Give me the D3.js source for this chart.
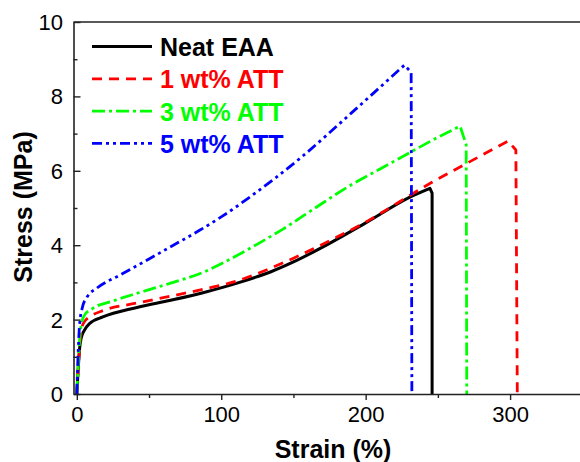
<!DOCTYPE html>
<html>
<head>
<meta charset="utf-8">
<script src="https://cdn.jsdelivr.net/npm/d3@7"></script>
<style>
  body { margin: 0; background: #fff; }
  svg { display: block; font-family: "Liberation Sans", Arial, sans-serif; }
</style>
</head>
<body>
<div id="chart"></div>
<script>
// series: strain (%) and stress (MPa)
const neatStrain = [0, 1, 2, 3, 5, 9, 18, 41, 65, 88, 111, 134, 150, 175, 200, 231, 244.5];
const neatStress = [0, 0.7, 1.25, 1.5, 1.7, 1.9, 2.07, 2.32, 2.52, 2.73, 2.98, 3.28, 3.55, 4.05, 4.6, 5.3, 5.53];
const neatBreak = [[246, 5.4], [246, 0]];

const att1Strain = [0, 1, 2, 3, 4.5, 10, 18, 41, 65, 88, 111, 134, 150, 175, 200, 210, 245, 270, 298.7];
const att1Stress = [0, 0.7, 1.3, 1.65, 1.9, 2.1, 2.24, 2.44, 2.63, 2.82, 3.04, 3.38, 3.65, 4.12, 4.62, 4.85, 5.67, 6.2, 6.8];
const att1Break = [[304, 6.56], [305, 0]];

const att3Strain = [0, 1, 2, 3, 5, 11, 25, 41, 65, 88, 100, 120, 143, 165, 189, 210, 231, 250, 265.4];
const att3Stress = [0, 0.8, 1.5, 1.85, 2.1, 2.3, 2.5, 2.7, 2.98, 3.28, 3.5, 3.92, 4.44, 5.0, 5.6, 6.05, 6.5, 6.9, 7.2];
const att3Break = [[269.6, 6.7], [270, 0]];

const att5Strain = [0, 1, 2, 4, 7, 14, 30, 50, 65, 85, 100, 120, 155, 190, 226.8];
const att5Stress = [0, 1.2, 1.9, 2.35, 2.6, 2.85, 3.2, 3.63, 3.96, 4.4, 4.76, 5.3, 6.35, 7.55, 8.84];
const att5Break = [[231.5, 8.65], [232, 0]];

const seriesNames = ["Neat EAA", "1 wt% ATT", "3 wt% ATT", "5 wt% ATT"];
const xTicks = [0, 100, 200, 300];
const yTicks = [0, 2, 4, 6, 8, 10];

const series = [
  {name: seriesNames[0], strain: neatStrain, stress: neatStress, brk: neatBreak, color: "#000000", dash: null, w: 3},
  {name: seriesNames[1], strain: att1Strain, stress: att1Stress, brk: att1Break, color: "#ff0000", dash: "10,7", w: 2.8},
  {name: seriesNames[2], strain: att3Strain, stress: att3Stress, brk: att3Break, color: "#00ff00", dash: "13,4,3,4", w: 2.8},
  {name: seriesNames[3], strain: att5Strain, stress: att5Stress, brk: att5Break, color: "#0000ff", dash: "10,4,3,4,3,4", w: 2.8}
];

const W = 580, H = 462;
const svg = d3.select("#chart").append("svg")
    .attr("width", W)
    .attr("height", H);

const x = d3.scaleLinear().domain([-2.3, 350]).range([73.5, 582.3]);
const y = d3.scaleLinear().domain([0, 10]).range([394, 22]);

const axisColor = "#222";

// curves (smooth rise, then straight break down to zero)
const line = d3.line()
    .x(d => x(d[0]))
    .y(d => y(d[1]))
    .curve(d3.curveMonotoneX);

const plot = svg.append("g");
series.forEach(function(s) {
  const pts = s.strain.map((v, i) => [v, s.stress[i]]);
  let path = line(pts);
  s.brk.forEach(function(p) { path += "L" + x(p[0]) + "," + y(p[1]); });
  plot.append("path")
      .attr("d", path)
      .attr("fill", "none")
      .attr("stroke", s.color)
      .attr("stroke-width", s.w)
      .attr("stroke-dasharray", s.dash)
      .attr("stroke-linejoin", "round");
});

// frame: left, bottom and top lines
svg.append("line").attr("x1", x.range()[0]).attr("x2", W + 5).attr("y1", y(10)).attr("y2", y(10))
    .attr("stroke", axisColor).attr("stroke-width", 1.6);

const gx = svg.append("g")
    .attr("transform", "translate(0," + y(0) + ")")
    .call(d3.axisBottom(x).tickValues(xTicks).tickSize(6).tickSizeOuter(0).tickPadding(6));
gx.append("g")
    .call(d3.axisBottom(x).tickValues([50, 150, 250, 350]).tickSize(4).tickSizeOuter(0).tickFormat(""))
    .select(".domain").remove();

const gy = svg.append("g")
    .attr("transform", "translate(" + x.range()[0] + ",0)")
    .call(d3.axisRight(y).tickValues(yTicks).tickSize(7).tickSizeOuter(0).tickFormat(""));
gy.append("g")
    .call(d3.axisRight(y).tickValues([1, 3, 5, 7, 9]).tickSize(4).tickSizeOuter(0).tickFormat(""))
    .select(".domain").remove();

svg.selectAll(".domain").attr("stroke", axisColor).attr("stroke-width", 1.6);
svg.selectAll(".tick line").attr("stroke", axisColor).attr("stroke-width", 1.4);

gx.selectAll(".tick text")
    .attr("font-size", "22px")
    .attr("fill", "#000")
    .attr("font-family", "Liberation Sans, Arial, sans-serif");

// y tick labels on the outside
svg.append("g").selectAll("text")
    .data(yTicks)
    .enter().append("text")
    .attr("x", 63)
    .attr("y", d => y(d))
    .attr("dy", "0.36em")
    .attr("text-anchor", "end")
    .attr("font-size", "22px")
    .text(d => d);

// axis titles
svg.append("text")
    .attr("x", 333)
    .attr("y", 458)
    .attr("text-anchor", "middle")
    .attr("font-size", "25px")
    .attr("font-weight", "bold")
    .text("Strain (%)");

svg.append("text")
    .attr("transform", "translate(32," + 207 + ") rotate(-90)")
    .attr("text-anchor", "middle")
    .attr("font-size", "25px")
    .attr("font-weight", "bold")
    .text("Stress (MPa)");

// legend
const legend = svg.append("g");
series.forEach(function(s, i) {
  const by = 56 + i * 32.3;
  legend.append("line")
      .attr("x1", 92).attr("x2", 152)
      .attr("y1", by - 9.5).attr("y2", by - 9.5)
      .attr("stroke", s.color)
      .attr("stroke-width", s.w)
      .attr("stroke-dasharray", s.dash);
  legend.append("text")
      .attr("x", 160)
      .attr("y", by)
      .attr("font-size", "25px")
      .attr("font-weight", "bold")
      .attr("fill", s.color)
      .text(s.name);
});
</script>
</body>
</html>
